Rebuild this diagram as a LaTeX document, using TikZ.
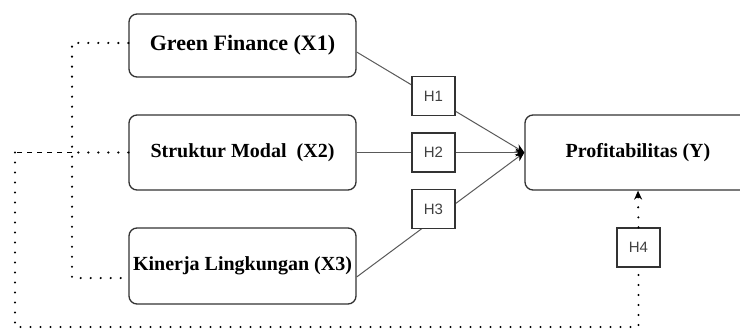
\documentclass[tikz,border=0pt]{standalone}
\usepackage{fontspec}
\setmainfont{Liberation Serif}
\newfontfamily\hfont{Liberation Sans}
\usepackage{tikz}
\usetikzlibrary{arrows.meta}
\tikzstyle{varbox} = [rectangle, rounded corners=8pt, minimum width=227pt, minimum height=75pt, text centered, draw=black!80, line width=1.3pt, fill=white, font=\fontsize{20}{24}\selectfont\bfseries]
\tikzstyle{hyp} = [rectangle, minimum width=43pt, minimum height=39pt, draw=black!80, line width=1.3pt, fill=white, font=\hfont\fontsize{15}{18}\selectfont, text=black!75]
\tikzstyle{link} = [draw=black!65, line width=1pt, -{Stealth[length=9pt,width=8pt,black]}]
\tikzstyle{dotline} = [line width=2.3pt, dash pattern=on 0pt off 10pt, line cap=round]
\tikzstyle{dashline} = [line width=1.8pt, dash pattern=on 5pt off 5pt]

\begin{document}
\begin{tikzpicture}[x=1pt, y=-1pt]
    \useasboundingbox (0,0) rectangle (740,329);
    % variables
    \node (x1) [varbox, minimum height=63pt, font=\fontsize{22}{26}\selectfont\bfseries] at (242.5,45.5) {Green Finance (X1)};
    \node (x2) [varbox] at (242.5,152.5) {Struktur Modal\ \ (X2)};
    \node (x3) [varbox, minimum height=76pt] at (242.5,266) {Kinerja Lingkungan (X3)};
    \node (y) [varbox, minimum width=226pt] at (638,152.5) {Profitabilitas (Y)};
    % direct paths
    \draw [link] ([yshift=-6.5pt]x1.east) -- (y.west);
    \draw [link] (x2.east) -- (y.west);
    \draw [link] ([yshift=-11pt]x3.east) -- (y.west);
    % hypotheses
    \node (h1) [hyp] at (433.5,96) {H1};
    \node (h2) [hyp] at (433.5,152.5) {H2};
    \node (h3) [hyp] at (433.5,209) {H3};
    \node (h4) [hyp] at (638.5,247.5) {H4};
    % simultaneous path
    \coordinate (bus) at (72,278);
    \coordinate (j2) at (72,152.5);
    \coordinate (j0) at (15,152.5);
    \coordinate (c1) at (15,327);
    \coordinate (c2) at (638.5,327);
    \draw [dotline] ([yshift=2.5pt]x1.west) -| (bus) -- ([yshift=-12pt]x3.west);
    \draw [dotline] (x2.west) -- (j2);
    \draw [dashline] (j2) -- (j0);
    \draw [dotline] (j0) -- (c1) -- (c2) -- (h4.south);
    \draw [dotline, -{Stealth[length=9pt,width=8pt]}] (h4.north) -- (y.south);
\end{tikzpicture}
\end{document}
